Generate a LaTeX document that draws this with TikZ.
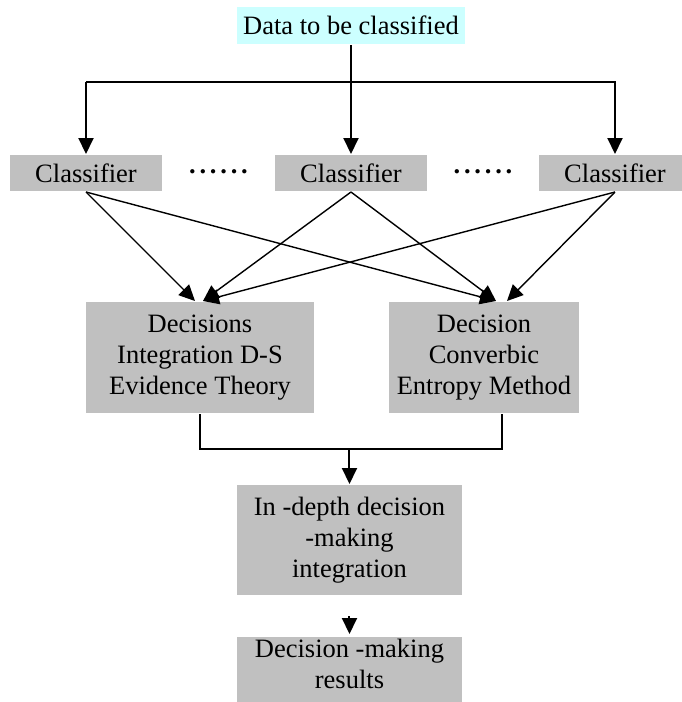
\documentclass[tikz,border=0pt]{standalone}
\usepackage{fontspec}
\setmainfont{Liberation Serif}
\usetikzlibrary{positioning,arrows.meta,calc}
\definecolor{boxgray}{HTML}{C0C0C0}
\definecolor{datacyan}{HTML}{CCFFFF}
\newcommand{\sixdots}{\textbf{.\kern3.8pt.\kern3.8pt.\kern3.8pt.\kern3.8pt.\kern3.8pt.}}

\begin{document}
\begin{tikzpicture}[node distance={147.5pt}, line width=2pt, align=center,
  box/.style = {fill=boxgray, inner sep=0pt, font=\fontsize{26.5}{31}\selectfont},
  clsbox/.style = {box, minimum width=152pt, minimum height=36pt},
  decbox/.style = {box, minimum height=111pt},
  dotsnode/.style = {inner sep=0pt, font=\fontsize{26.5}{31}\selectfont},
  arr/.style = {-{Triangle[length=16pt,width=15pt]}},
  diag/.style = {line width=1.4pt}]
  \useasboundingbox (-351pt,25.5pt) rectangle (330pt,-676.5pt);

  \node[box, fill=datacyan, minimum width=228pt, minimum height=37pt] (data) {Data to be classified};
  \node[clsbox] (c2) [below of=data] {Classifier};
  \node[clsbox] (c1) [left of=c2, xshift=-117.5pt] {Classifier};
  \node[clsbox] (c3) [right of=c2, xshift=116.5pt] {Classifier};
  \node[dotsnode] (d1) at ($(c1)!0.5!(c2)+(0,1pt)$) {\sixdots};
  \node[dotsnode] (d2) at ($(c2)!0.5!(c3)+(0,1pt)$) {\sixdots};

  \node[decbox, minimum width=228pt] (dec1) [below of=c1, xshift=114pt, yshift=-37pt] {Decisions\\Integration D-S\\Evidence Theory};
  \node[decbox, minimum width=190pt] (dec2) [below of=c2, xshift=133pt, yshift=-37pt] {Decision\\Converbic\\Entropy Method};

  \node[box, minimum width=225pt, minimum height=110pt] (deep) [below of=dec1, xshift=149.5pt, yshift=-35pt] {In -depth decision\\-making\\integration};
  \node[box, minimum width=225pt, inner ysep=2.5pt, text depth=30pt] (res) [below=40pt of deep] {Decision -making\\results};

  % data to classifiers
  \draw (data.south) -- ++(0,-37pt) coordinate (split);
  \draw[arr] (split) -- (c2.north);
  \draw[arr] (c1.north |- split) -- (c1.north);
  \draw[arr] (c1.north |- split) -| (c3.north);

  % classifiers to decisions
  \draw[arr, diag] (c1.south) -- ([xshift=-5pt]dec1.north);
  \draw[arr, diag] (c2.south) -- ([xshift=3pt]dec1.north);
  \draw[arr, diag] (c3.south) -- ([xshift=3pt]dec1.north);
  \draw[arr, diag] (c1.south) -- ([xshift=12pt]dec2.north);
  \draw[arr, diag] (c2.south) -- ([xshift=12pt]dec2.north);
  \draw[arr, diag] (c3.south) -- ([xshift=23pt]dec2.north);

  % decisions to integration
  \draw (dec1.south) -- ++(0,-35pt) coordinate (join) -| ([xshift=18pt]dec2.south);
  \draw[arr] (join -| deep.north) -- (deep.north);
  \draw[arr, shorten <=20pt, shorten >=2pt] (deep) -- (res);
\end{tikzpicture}
\end{document}
